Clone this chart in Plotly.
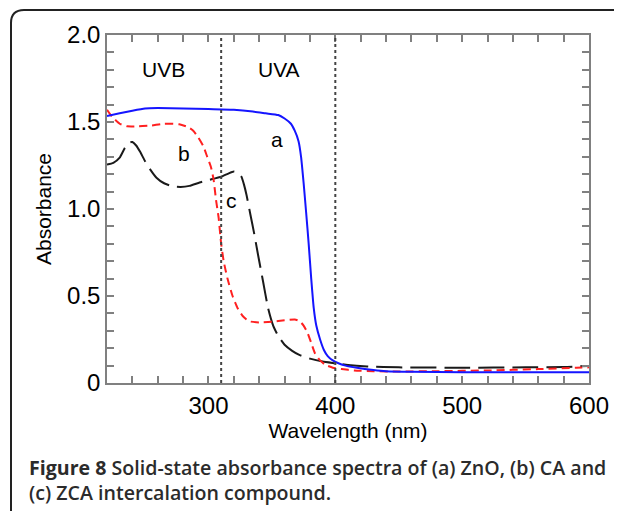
import plotly.graph_objects as go

# ---- data ----
wl_a = [220, 230, 240, 250, 260, 280, 300, 320, 335, 345, 355, 360, 365, 368, 371, 373, 375, 377, 379, 381, 383, 385, 388, 391, 394, 398, 402, 408, 417, 430, 440, 460, 500, 550, 600]
abs_a = [1.535, 1.55, 1.565, 1.578, 1.58, 1.578, 1.575, 1.57, 1.56, 1.55, 1.54, 1.52, 1.49, 1.45, 1.39, 1.30, 1.15, 0.98, 0.80, 0.60, 0.43, 0.33, 0.25, 0.19, 0.155, 0.13, 0.115, 0.10, 0.088, 0.075, 0.068, 0.064, 0.062, 0.062, 0.062]

wl_b = [220, 224, 230, 236, 245, 255, 265, 277, 284, 288, 292, 296, 299, 302, 304, 306, 308, 310, 312, 315, 319, 323, 327, 332, 340, 350, 360, 368, 372, 375, 378, 381, 384, 388, 392, 398, 405, 415, 430, 450, 480, 520, 560, 590, 600]
abs_b = [1.57, 1.53, 1.49, 1.475, 1.475, 1.48, 1.49, 1.487, 1.47, 1.45, 1.41, 1.36, 1.30, 1.24, 1.17, 1.05, 0.95, 0.80, 0.70, 0.60, 0.50, 0.43, 0.385, 0.355, 0.348, 0.352, 0.36, 0.365, 0.355, 0.33, 0.29, 0.23, 0.17, 0.13, 0.105, 0.088, 0.08, 0.072, 0.068, 0.066, 0.068, 0.072, 0.08, 0.088, 0.09]

wl_c = [220, 225, 230, 234, 238, 240, 243, 246, 250, 254, 259, 265, 272, 278, 285, 293, 303, 310, 316, 320, 323, 326, 328, 330, 333, 336, 339, 343, 347, 351, 355, 360, 366, 372, 380, 390, 400, 410, 425, 450, 500, 550, 580, 600]
abs_c = [1.255, 1.265, 1.295, 1.35, 1.383, 1.385, 1.365, 1.33, 1.275, 1.228, 1.18, 1.148, 1.13, 1.127, 1.133, 1.152, 1.172, 1.185, 1.205, 1.215, 1.21, 1.185, 1.14, 1.08, 0.97, 0.86, 0.74, 0.585, 0.43, 0.33, 0.27, 0.22, 0.185, 0.16, 0.14, 0.123, 0.113, 0.103, 0.095, 0.09, 0.088, 0.09, 0.092, 0.098]

x_tickvals = [300, 400, 500, 600]
x_ticktext = ["300", "400", "500", "600"]
y_tickvals = [0, 0.5, 1.0, 1.5, 2.0]
y_ticktext = ["0", "0.5", "1.0", "1.5", "2.0"]

region_lines = [310, 400]
region_labels = ["UVB", "UVA"]
region_label_x = [264.5, 355.6]
curve_labels = ["a", "b", "c"]
curve_label_x = [353.7, 281, 317.8]
curve_label_y = [1.40, 1.32, 1.05]

caption = ("<b>Figure 8</b> Solid-state absorbance spectra of (a) ZnO, (b) CA and<br>"
           "(c) ZCA intercalation compound.")

# ---- figure (page has an 8px body margin) ----
OFF = 8
W, H = 622 - OFF, 511 - OFF
ML, MR, MT, MB = 107 - OFF, 33, 35 - OFF, 128
PW, PH = W - ML - MR, H - MT - MB

def px(x):  # page pixel -> paper x
    return (x - OFF - ML) / PW

def py(y):  # page pixel -> paper y
    return (H - MB - (y - OFF)) / PH

fig = go.Figure()
fig.add_trace(go.Scatter(x=wl_c, y=abs_c, mode="lines", line_shape="spline",
                         line=dict(color="#1a1a1a", width=2, dash="26px,8px", smoothing=0.5), showlegend=False))
fig.add_trace(go.Scatter(x=wl_b, y=abs_b, mode="lines", line_shape="spline",
                         line=dict(color="#ff2020", width=2, dash="8px,5px", smoothing=0.5), showlegend=False))
fig.add_trace(go.Scatter(x=wl_a, y=abs_a, mode="lines", line_shape="spline",
                         line=dict(color="#1515ff", width=2, smoothing=0.5), showlegend=False))

for xv in region_lines:
    fig.add_shape(type="line", x0=xv, x1=xv, y0=0, y1=1, xref="x", yref="paper",
                  line=dict(color="#444444", width=2, dash="dot"))

# rounded border
path = (f"M {px(11)},{py(520)} L {px(11)},{py(23)} "
        f"Q {px(11)},{py(10)} {px(24)},{py(10)} L {px(640)},{py(10)}")
fig.add_shape(type="path", path=path, xref="paper", yref="paper",
              line=dict(color="#222222", width=2))

lab_font = dict(family="Liberation Sans, Arial, sans-serif", size=21, color="black")
for t, xv in zip(region_labels, region_label_x):
    fig.add_annotation(x=xv, y=1.80, text=t, showarrow=False, font=lab_font,
                       xref="x", yref="y")
for t, xv, yv in zip(curve_labels, curve_label_x, curve_label_y):
    fig.add_annotation(x=xv, y=yv, text=t, showarrow=False, font=lab_font,
                       xref="x", yref="y")

cap_font = dict(family="Open Sans, sans-serif", size=19.6, color="#2b2b2b", weight=600)
fig.add_annotation(x=px(27), y=py(480), text=caption, showarrow=False, align="left",
                   xref="paper", yref="paper", xanchor="left", yanchor="middle", font=cap_font)

axis_common = dict(showline=True, linecolor="#808080", linewidth=1.5, mirror="allticks",
                   ticks="inside", ticklen=7, tickcolor="#808080", tickwidth=1.5,
                   showgrid=False, zeroline=False,
                   tickfont=dict(family="Liberation Sans, Arial, sans-serif", size=24, color="black"))

fig.update_xaxes(range=[220, 600], tickmode="array", tickvals=x_tickvals, ticktext=x_ticktext,
                 minor=dict(dtick=20, tick0=220, ticks="inside", ticklen=7, tickcolor="#808080", tickwidth=1.5),
                 title=dict(text="Wavelength (nm)", standoff=6,
                            font=dict(family="Liberation Sans, Arial, sans-serif", size=21, color="black")),
                 **axis_common)
fig.update_yaxes(range=[0, 2], tickmode="array", tickvals=y_tickvals, ticktext=y_ticktext,
                 minor=dict(dtick=0.1, tick0=0, ticks="inside", ticklen=7, tickcolor="#808080", tickwidth=1.5),
                 title=dict(text="Absorbance", standoff=10,
                            font=dict(family="Liberation Sans, Arial, sans-serif", size=21, color="black")),
                 **axis_common)

fig.update_layout(width=W, height=H, margin=dict(l=ML, r=MR, t=MT, b=MB),
                  plot_bgcolor="white", paper_bgcolor="white")

fig.write_html("out.html")
